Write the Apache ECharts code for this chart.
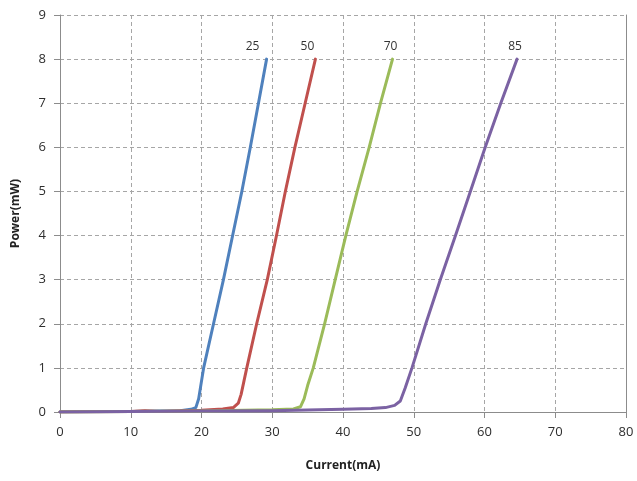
<!DOCTYPE html>
<html>
<head>
<meta charset="utf-8">
<script src="https://cdn.jsdelivr.net/npm/echarts@6/dist/echarts.min.js"></script>
<style>
html,body{margin:0;padding:0;background:#fff;}
#chart{width:637px;height:481px;}
</style>
</head>
<body>
<div id="chart"></div>
<script>
// Data
var seriesNames = ['25', '50', '70', '85'];

var current25 = [0, 10, 14, 17, 18.5, 19.2, 19.6, 20.0, 20.3, 21.7, 23.1, 24.4, 25.7, 26.9, 28.05, 29.2];
var power25   = [0, 0.01, 0.02, 0.03, 0.06, 0.1, 0.3, 0.7, 1, 2, 3, 4, 5, 6, 7, 8];

var current50 = [0, 10, 12, 14, 20, 23, 24.5, 25.2, 25.6, 26.0, 26.4, 27.8, 29.3, 30.6, 31.85, 33.2, 34.65, 36.1];
var power50   = [0, 0.01, 0.03, 0.01, 0.04, 0.07, 0.1, 0.2, 0.4, 0.7, 1, 2, 3, 4, 5, 6, 7, 8];

var current70 = [0, 20, 30, 33, 34, 34.5, 35, 35.8, 37.4, 38.9, 40.4, 42.0, 43.7, 45.3, 47.0];
var power70   = [0, 0.02, 0.05, 0.07, 0.12, 0.3, 0.6, 1, 2, 3, 4, 5, 6, 7, 8];

var current85 = [0, 20, 30, 40, 44, 46, 47.3, 48.1, 48.8, 49.75, 51.7, 53.75, 55.9, 58.0, 60.1, 62.3, 64.6];
var power85   = [0, 0.02, 0.03, 0.06, 0.08, 0.1, 0.15, 0.25, 0.55, 1, 2, 3, 4, 5, 6, 7, 8];

var xTicks = [0, 10, 20, 30, 40, 50, 60, 70, 80];
var yTicks = [0, 1, 2, 3, 4, 5, 6, 7, 8, 9];

var colors = ['#4f81bd', '#c0504d', '#9bbb59', '#7b62a3'];
var labelOffsets = [[-14, 0], [-8, 0], [-2, 0], [-2, 0]];

function build(xs, ys, idx) {
  return xs.map(function (x, i) {
    var item = { value: [x, ys[i]] };
    if (i === xs.length - 1) {
      item.label = {
        show: true,
        position: 'top',
        distance: 7,
        formatter: seriesNames[idx],
        offset: labelOffsets[idx],
        color: '#333',
        fontSize: 12,
        fontFamily: 'Open Sans'
      };
    }
    return item;
  });
}

var allX = [current25, current50, current70, current85];
var allY = [power25, power50, power70, power85];

var chart = echarts.init(document.getElementById('chart'), null, { renderer: 'canvas' });

var axisLabelStyle = { color: '#2e2e2e', fontSize: 13, fontFamily: 'Open Sans' };
var splitStyle = { show: true, lineStyle: { color: '#a6a6a6', type: [4, 3], width: 1 } };

chart.setOption({
  animation: false,
  backgroundColor: '#fff',
  grid: { left: 60, right: 11, top: 15, bottom: 69 },
  xAxis: {
    type: 'value',
    min: xTicks[0],
    max: xTicks[xTicks.length - 1],
    interval: 10,
    name: 'Current(mA)',
    nameLocation: 'middle',
    nameGap: 48,
    nameTextStyle: { color: '#222', fontSize: 12, fontWeight: 'bold', fontFamily: 'Open Sans' },
    axisLine: { show: true, lineStyle: { color: '#8c8c8c', width: 1 } },
    axisTick: { show: true, length: 6, lineStyle: { color: '#8c8c8c' } },
    axisLabel: Object.assign({ margin: 14 }, axisLabelStyle),
    splitLine: splitStyle
  },
  yAxis: [{
    type: 'value',
    min: yTicks[0],
    max: yTicks[yTicks.length - 1],
    interval: 1,
    name: 'Power(mW)',
    nameLocation: 'middle',
    nameGap: 38,
    nameTextStyle: { color: '#222', fontSize: 12, fontWeight: 'bold', fontFamily: 'Open Sans' },
    axisLine: { show: true, lineStyle: { color: '#8c8c8c', width: 1 } },
    axisTick: { show: true, length: 6, lineStyle: { color: '#8c8c8c' } },
    axisLabel: Object.assign({ margin: 14 }, axisLabelStyle),
    splitLine: splitStyle
  }, {
    type: 'value',
    position: 'right',
    min: yTicks[0],
    max: yTicks[yTicks.length - 1],
    interval: 1,
    axisLine: { show: true, lineStyle: { color: '#8c8c8c', width: 1 } },
    axisTick: { show: false },
    axisLabel: { show: false },
    splitLine: { show: false }
  }],
  series: allX.map(function (xs, idx) {
    return {
      name: seriesNames[idx],
      type: 'line',
      yAxisIndex: 0,
      data: build(xs, allY[idx], idx),
      showSymbol: true,
      symbol: 'circle',
      symbolSize: 0,
      smooth: false,
      lineStyle: { color: colors[idx], width: 3, join: 'round', cap: 'round' },
      itemStyle: { color: colors[idx] },
      z: 2 + idx
    };
  })
});
</script>
</body>
</html>
